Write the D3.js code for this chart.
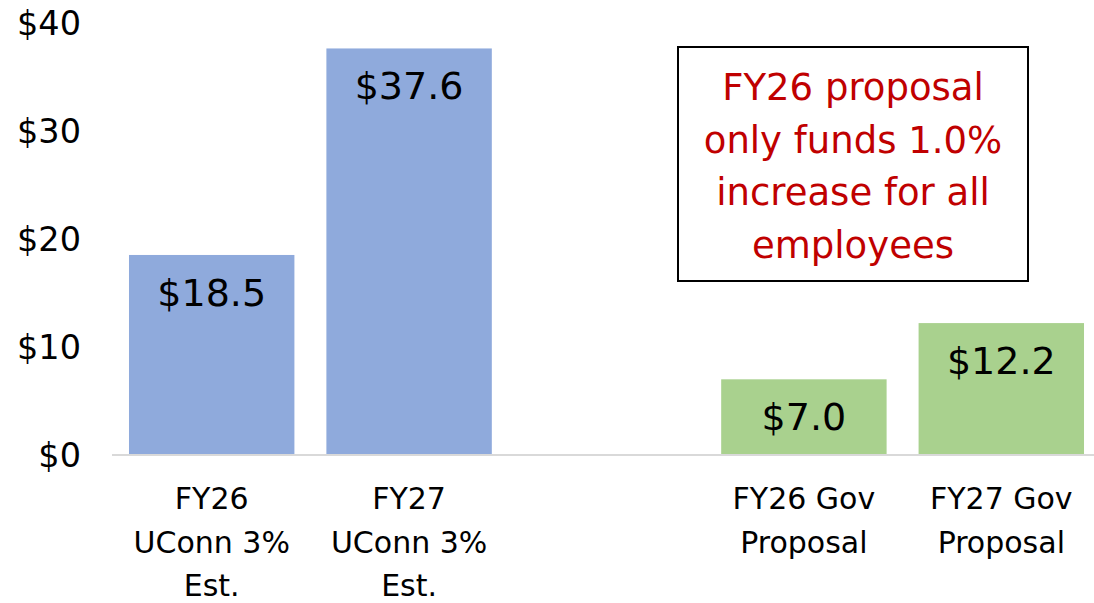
<!DOCTYPE html>
<html>
<head>
<meta charset="utf-8">
<script src="https://cdn.jsdelivr.net/npm/d3@7"></script>
<style>
  html, body { margin: 0; padding: 0; background: #fff; }
  svg { display: block; font-family: "DejaVu Sans", "Liberation Sans", sans-serif; }
</style>
</head>
<body>
<svg id="chart" width="1094" height="603"></svg>
<script>
// ---- data ----
const categories = ["FY26|UConn 3%|Est.", "FY27|UConn 3%|Est.", "gap", "FY26 Gov|Proposal", "FY27 Gov|Proposal"];
const values = [18.5, 37.6, null, 7.0, 12.2];
const barColors = ["#8FAADC", "#8FAADC", null, "#A9D18E", "#A9D18E"];
const yTicks = [0, 10, 20, 30, 40];
const noteLines = ["FY26 proposal", "only funds 1.0%", "increase for all", "employees"];

const svg = d3.select("#chart");

const x = d3.scaleBand()
  .domain(categories)
  .range([113, 1100])
  .paddingInner(0.162)
  .paddingOuter(0.081);

const y = d3.scaleLinear().domain([0, 40]).range([455, 22.5]);

const fmt = v => "$" + d3.format(".1f")(v);

// y tick labels
svg.append("g").selectAll("text")
  .data(yTicks)
  .join("text")
  .attr("x", 81)
  .attr("y", d => y(d))
  .attr("dy", "0.36em")
  .attr("text-anchor", "end")
  .attr("font-size", 33.5)
  .attr("fill", "#000")
  .text(d => "$" + d);

const data = categories.map((c, i) => ({ c, v: values[i], color: barColors[i] }))
  .filter(d => d.v != null);

// bars
svg.append("g").selectAll("rect")
  .data(data)
  .join("rect")
  .attr("x", d => x(d.c))
  .attr("y", d => y(d.v))
  .attr("width", x.bandwidth())
  .attr("height", d => y(0) - y(d.v))
  .attr("fill", d => d.color);

// baseline axis
svg.append("line")
  .attr("x1", 112).attr("x2", 1094)
  .attr("y1", y(0)).attr("y2", y(0))
  .attr("stroke", "#D9D9D9")
  .attr("stroke-width", 2);

// value labels inside bars
svg.append("g").selectAll("text")
  .data(data)
  .join("text")
  .attr("x", d => x(d.c) + x.bandwidth() / 2)
  .attr("y", d => y(d.v) + 51)
  .attr("text-anchor", "middle")
  .attr("font-size", 38)
  .attr("fill", "#000")
  .text(d => fmt(d.v));

// category labels
const catG = svg.append("g").selectAll("text")
  .data(data)
  .join("text")
  .attr("text-anchor", "middle")
  .attr("font-size", 30)
  .attr("fill", "#000");
catG.selectAll("tspan")
  .data(d => d.c.split("|").map(t => ({ t, cx: x(d.c) + x.bandwidth() / 2 })))
  .join("tspan")
  .attr("x", d => d.cx)
  .attr("y", (d, i) => 509 + i * 43.5)
  .text(d => d.t);

// annotation box
svg.append("rect")
  .attr("x", 678).attr("y", 47)
  .attr("width", 350).attr("height", 234)
  .attr("fill", "#fff")
  .attr("stroke", "#000")
  .attr("stroke-width", 2);

svg.append("g").selectAll("text")
  .data(noteLines)
  .join("text")
  .attr("x", 853)
  .attr("y", (d, i) => 100 + i * 52.5)
  .attr("text-anchor", "middle")
  .attr("font-size", 37)
  .attr("fill", "#C00000")
  .text(d => d);
</script>
</body>
</html>
